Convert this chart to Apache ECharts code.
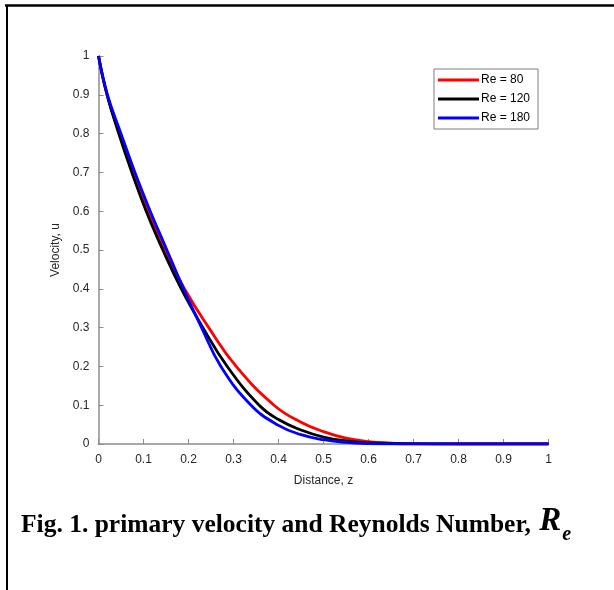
<!DOCTYPE html>
<html>
<head>
<meta charset="utf-8">
<script src="https://cdn.jsdelivr.net/npm/echarts@6/dist/echarts.min.js"></script>
<style>html,body{margin:0;padding:0;background:#fff;}#c{width:614px;height:590px;}</style>
</head>
<body>
<div id="c"></div>
<script>
// Distance z and velocity u, one pair of arrays per series
var zRe80  = [0, 0.019, 0.047, 0.077, 0.111, 0.148, 0.191, 0.245, 0.306, 0.390, 0.45, 0.5, 0.55, 0.6, 0.65, 0.7, 0.8, 1];
var uRe80  = [1, 0.9,   0.8,   0.7,   0.6,   0.5,   0.4,   0.3,   0.2,   0.1,   0.056, 0.032, 0.015, 0.006, 0.0025, 0.0008, 0, 0];
var zRe120 = [0, 0.019, 0.045, 0.074, 0.106, 0.143, 0.184, 0.232, 0.286, 0.357, 0.4, 0.45, 0.5, 0.55, 0.6, 0.7, 0.8, 1];
var uRe120 = [1, 0.9,   0.8,   0.7,   0.6,   0.5,   0.4,   0.3,   0.2,   0.1,   0.063, 0.036, 0.018, 0.008, 0.003, 0.0005, 0, 0];
var zRe180 = [0, 0.020, 0.050, 0.081, 0.115, 0.152, 0.189, 0.229, 0.272, 0.339, 0.4, 0.45, 0.5, 0.55, 0.6, 0.7, 0.8, 1];
var uRe180 = [1, 0.9,   0.8,   0.7,   0.6,   0.5,   0.4,   0.3,   0.2,   0.1,   0.048, 0.024, 0.011, 0.004, 0.0012, 0, 0, 0];
var seriesNames = ['Re = 80','Re = 120','Re = 180'];
var seriesColors = ['#ff0000','#000000','#0000ff'];
var seriesZ = [zRe80, zRe120, zRe180];
var seriesU = [uRe80, uRe120, uRe180];

function pairs(zs, us){ return zs.map(function(z,i){ return [z, us[i]]; }); }

var chart = echarts.init(document.getElementById('c'), null, {renderer:'canvas'});
var axisText = {color:'#262626', fontSize:12, fontFamily:'Arial, "Liberation Sans", sans-serif'};
var serif = '"Liberation Serif", "Times New Roman", serif';
chart.setOption({
  animation:false,
  backgroundColor:'#fff',
  grid:{left:98.5, right:65.5, top:56, bottom:146},
  title:{
    text:'{a|Fig. 1. primary velocity and Reynolds Number, }{r|R}{s|e}',
    left:16, top:499,
    textStyle:{
      rich:{
        a:{fontFamily:serif, fontWeight:'bold', fontSize:25.5, color:'#000', lineHeight:34, verticalAlign:'bottom'},
        r:{fontFamily:serif, fontStyle:'italic', fontSize:33, color:'#000', lineHeight:34, verticalAlign:'bottom', padding:[0,0,0,2]},
        s:{fontFamily:serif, fontStyle:'italic', fontSize:20, color:'#000', lineHeight:34, verticalAlign:'bottom', padding:[0,0,-7,1]}
      }
    }
  },
  legend:{
    orient:'vertical', left:434, top:69,
    data:seriesNames,
    icon:'rect', itemWidth:41, itemHeight:3, itemGap:7,
    backgroundColor:'#fff', borderColor:'#7f7f7f', borderWidth:1,
    padding:[5,8,5,4],
    textStyle:{color:'#000', fontSize:12, fontFamily:'Arial, "Liberation Sans", sans-serif', padding:[0,0,0,-3]}
  },
  xAxis:{
    type:'value', min:0, max:1, interval:0.1,
    name:'Distance, z', nameLocation:'middle', nameGap:31,
    nameTextStyle:axisText,
    axisLine:{lineStyle:{color:'#8c8c8c', width:1.5}},
    axisTick:{inside:true, length:5, lineStyle:{color:'#8c8c8c'}},
    axisLabel:{color:'#262626', fontSize:12, fontFamily:'Arial, "Liberation Sans", sans-serif', margin:10},
    splitLine:{show:false}
  },
  yAxis:{
    type:'value', min:0, max:1, interval:0.1,
    name:'Velocity, u', nameLocation:'middle', nameGap:23,
    nameTextStyle:axisText,
    axisLine:{show:true, lineStyle:{color:'#8c8c8c', width:1.5}},
    axisTick:{show:true, inside:true, length:5, lineStyle:{color:'#8c8c8c'}},
    axisLabel:{color:'#262626', fontSize:12, fontFamily:'Arial, "Liberation Sans", sans-serif', margin:9},
    splitLine:{show:false}
  },
  series: seriesNames.map(function(n,i){
    return {
      name:n, type:'line', data:pairs(seriesZ[i], seriesU[i]),
      showSymbol:false, smooth:0.45,
      lineStyle:{color:seriesColors[i], width:2.8},
      itemStyle:{color:seriesColors[i]},
      z:2+i
    };
  }),
  graphic:[
    {type:'line', shape:{x1:5, y1:5.5, x2:614, y2:5.5}, style:{stroke:'#000', lineWidth:2.5}},
    {type:'line', shape:{x1:7, y1:5, x2:7, y2:590}, style:{stroke:'#000', lineWidth:2}}
  ]
});
</script>
</body>
</html>
